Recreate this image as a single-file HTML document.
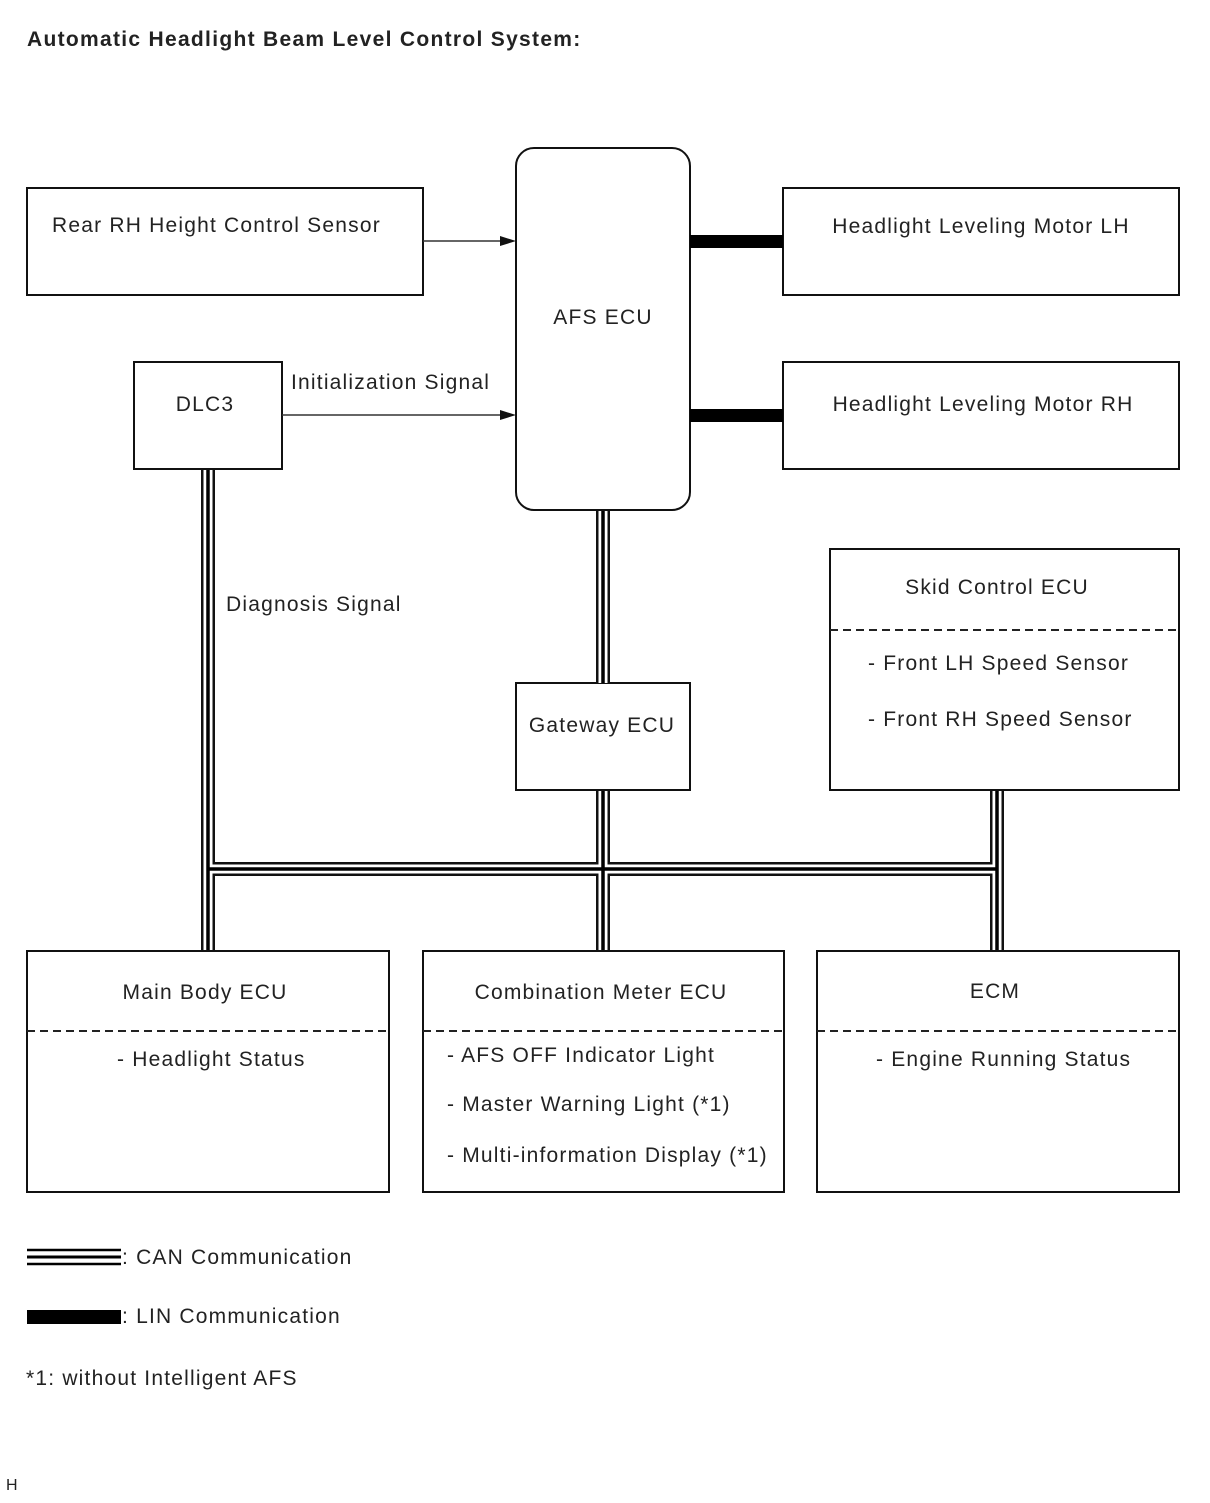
<!DOCTYPE html>
<html><head><meta charset="utf-8"><style>
body{margin:0;background:#fff;}
svg text{font-family:"Liberation Sans",sans-serif;font-size:21px;letter-spacing:1.2px;fill:#222;}
</style></head><body>
<svg width="1210" height="1498" viewBox="0 0 1210 1498" xmlns="http://www.w3.org/2000/svg">
<text x="27" y="46" style="font-weight:bold;font-size:21px;letter-spacing:1.3px">Automatic Headlight Beam Level Control System:</text>
<g fill="#fff" stroke="#111" stroke-width="2">
<rect x="27" y="188" width="396" height="107"/>
<rect x="516" y="148" width="174" height="362" rx="18"/>
<rect x="783" y="188" width="396" height="107"/>
<rect x="783" y="362" width="396" height="107"/>
<rect x="134" y="362" width="148" height="107"/>
<rect x="516" y="683" width="174" height="107"/>
<rect x="830" y="549" width="349" height="241"/>
<rect x="27" y="951" width="362" height="241"/>
<rect x="423" y="951" width="361" height="241"/>
<rect x="817" y="951" width="362" height="241"/>
</g>
<g stroke="#222" stroke-width="2" stroke-dasharray="8,5">
<line x1="830" y1="630" x2="1179" y2="630"/>
<line x1="27" y1="1031" x2="389" y2="1031"/>
<line x1="423" y1="1031" x2="784" y2="1031"/>
<line x1="817" y1="1031" x2="1179" y2="1031"/>
</g>
<g stroke="#333" stroke-width="1.5">
<line x1="423" y1="241" x2="500" y2="241"/>
<line x1="282" y1="415" x2="500" y2="415"/>
</g>
<polygon points="500,236 516,241 500,246" fill="#111"/>
<polygon points="500,410 516,415 500,420" fill="#111"/>
<rect x="690" y="235" width="93" height="13" fill="#000"/>
<rect x="690" y="409" width="93" height="13" fill="#000"/>
<g fill="none" stroke-linejoin="miter" stroke-linecap="butt">
<path d="M208 470 V950 M208 869 H997 M603 511 V683 M603 791 V950 M997 791 V950" stroke="#111" stroke-width="14"/>
<path d="M208 470 V950 M208 869 H997 M603 511 V683 M603 791 V950 M997 791 V950" stroke="#fff" stroke-width="9"/>
<path d="M208 470 V950 M208 869 H997 M603 511 V683 M603 791 V950 M997 791 V950" stroke="#000" stroke-width="3.5"/>
</g>
<text x="52" y="232">Rear RH Height Control Sensor</text>
<text x="603" y="324" text-anchor="middle">AFS ECU</text>
<text x="981" y="233" text-anchor="middle">Headlight Leveling Motor LH</text>
<text x="983" y="411" text-anchor="middle">Headlight Leveling Motor RH</text>
<text x="205" y="411" text-anchor="middle">DLC3</text>
<text x="291" y="389">Initialization Signal</text>
<text x="226" y="611">Diagnosis Signal</text>
<text x="602" y="732" text-anchor="middle">Gateway ECU</text>
<text x="997" y="594" text-anchor="middle">Skid Control ECU</text>
<text x="868" y="670">- Front LH Speed Sensor</text>
<text x="868" y="726">- Front RH Speed Sensor</text>
<text x="205" y="999" text-anchor="middle">Main Body ECU</text>
<text x="117" y="1066">- Headlight Status</text>
<text x="601" y="999" text-anchor="middle">Combination Meter ECU</text>
<text x="447" y="1062">- AFS OFF Indicator Light</text>
<text x="447" y="1111">- Master Warning Light (*1)</text>
<text x="447" y="1162">- Multi-information Display (*1)</text>
<text x="995" y="998" text-anchor="middle">ECM</text>
<text x="876" y="1066">- Engine Running Status</text>
<g stroke="#000">
<line x1="27" y1="1250" x2="121" y2="1250" stroke-width="2.5"/>
<line x1="27" y1="1257" x2="121" y2="1257" stroke-width="3"/>
<line x1="27" y1="1264" x2="121" y2="1264" stroke-width="2.5"/>
</g>
<text x="122" y="1264">: CAN Communication</text>
<rect x="27" y="1310" width="94" height="14" fill="#000"/>
<text x="122" y="1323">: LIN Communication</text>
<text x="26" y="1385">*1: without Intelligent AFS</text>
<text x="6" y="1490" style="font-size:16px;letter-spacing:0">H</text>
</svg>
</body></html>
